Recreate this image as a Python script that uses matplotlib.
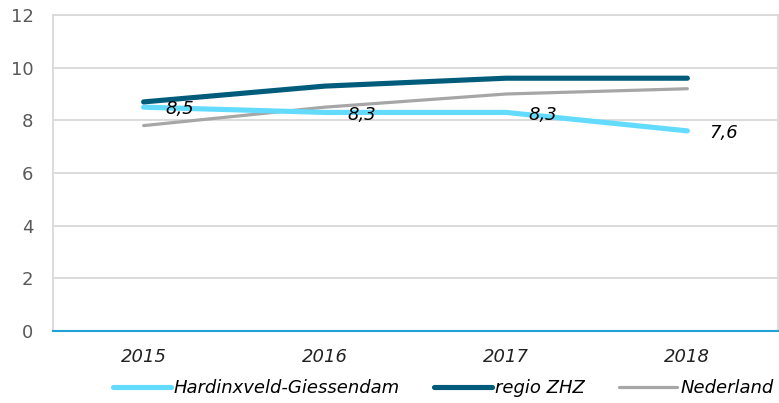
import matplotlib.pyplot as plt

years = ["2015", "2016", "2017", "2018"]
hardinxveld = [8.5, 8.3, 8.3, 7.6]
regio_zhz = [8.7, 9.3, 9.6, 9.6]
nederland = [7.8, 8.5, 9.0, 9.2]
hardinxveld_labels = ["8,5", "8,3", "8,3", "7,6"]
y_ticks = [0, 2, 4, 6, 8, 10, 12]

plt.rcParams["font.family"] = "DejaVu Sans"

fig = plt.figure(figsize=(7.79, 4.03), dpi=100)
ax = fig.add_axes([53 / 779, 1 - 331 / 403, 725 / 779, 316 / 403])

x = range(len(years))
ax.plot(x, hardinxveld, color="#63dbff", lw=3.7, solid_capstyle="round",
        label="Hardinxveld-Giessendam", zorder=3)
ax.plot(x, regio_zhz, color="#005c7a", lw=3.7, solid_capstyle="round",
        label="regio ZHZ", zorder=4)
ax.plot(x, nederland, color="#a6a6a6", lw=2.3, solid_capstyle="round",
        label="Nederland", zorder=2)

# data labels only for the municipality series
for i, (v, txt) in enumerate(zip(hardinxveld, hardinxveld_labels)):
    ax.annotate(txt, (i, v), xytext=(16, -1.5), textcoords="offset points",
                ha="left", va="center", fontsize=13, style="italic",
                color="black", zorder=5)

ax.set_xlim(-0.5, 3.5)
ax.set_ylim(0, 12)
ax.set_yticks(y_ticks)
ax.set_xticks(list(x))
ax.set_xticklabels(years, style="italic", fontsize=13, color="#222222")
ax.tick_params(axis="y", labelsize=13, colors="#595959", length=0, pad=14)
ax.tick_params(axis="x", length=0, pad=12)
ax.grid(axis="y", color="#d9d9d9", lw=1.3)
ax.set_axisbelow(True)

for side in ["left", "top", "right"]:
    ax.spines[side].set_color("#d9d9d9")
    ax.spines[side].set_linewidth(1.3)
ax.spines["bottom"].set_color("#1fa3d6")
ax.spines["bottom"].set_linewidth(1.5)

fig.legend(loc="center", bbox_to_anchor=(0.569, 0.037), ncol=3,
           frameon=False, prop={"style": "italic", "size": 13},
           handlelength=3.2, handletextpad=0.17, columnspacing=1.9,
           borderpad=0, borderaxespad=0)

plt.savefig("out.png", dpi=100)
